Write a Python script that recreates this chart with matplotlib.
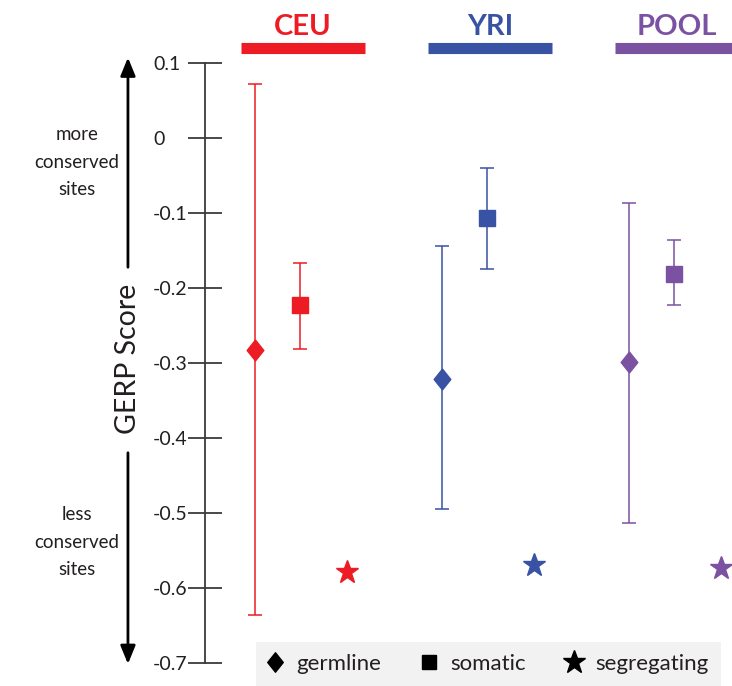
"""
GERP score of germline, somatic and segregating sites per population
"""
import numpy as np
import matplotlib.pyplot as plt
from matplotlib.lines import Line2D
from matplotlib.path import Path

plt.rcParams['font.family'] = ['Lato', 'DejaVu Sans']

# -------------------------------------------
# Data
# -------------------------------------------
populations = ['CEU', 'YRI', 'POOL']
pop_colors = ['#ED1C24', '#3953A4', '#7B52A1']

germline_mean = [-0.282, -0.321, -0.298]
germline_low = [-0.636, -0.495, -0.513]
germline_high = [0.072, -0.144, -0.087]

somatic_mean = [-0.222, -0.106, -0.181]
somatic_low = [-0.281, -0.174, -0.222]
somatic_high = [-0.166, -0.040, -0.136]

segregating_mean = [-0.578, -0.569, -0.573]

yticks = [0.1, 0.0, -0.1, -0.2, -0.3, -0.4, -0.5, -0.6, -0.7]
ytick_labels = ['0.1', '0', '-0.1', '-0.2', '-0.3', '-0.4', '-0.5', '-0.6', '-0.7']

# -------------------------------------------
# Figure
# -------------------------------------------
TEXT = '#231F20'
AXC = '#3a3a3a'
diamond = Path([(0, 1), (0.8, 0), (0, -1), (-0.8, 0), (0, 1)],
               [Path.MOVETO, Path.LINETO, Path.LINETO, Path.LINETO, Path.CLOSEPOLY])

fig = plt.figure(figsize=(7.32, 6.86), dpi=100)
W, H = 732, 686
ax = fig.add_axes([205 / W, 23 / H, 1 - 205 / W, 600 / H])

off_som, off_seg = 0.24, 0.49
groups = np.arange(len(populations))

for i, c in enumerate(pop_colors):
    g = groups[i]
    ax.errorbar(g, germline_mean[i],
                yerr=[[germline_mean[i] - germline_low[i]], [germline_high[i] - germline_mean[i]]],
                fmt='none', ecolor=c, elinewidth=1.3, capsize=4.7, capthick=1.3,
                alpha=0.85, clip_on=False)
    ax.plot(g, germline_mean[i], marker=diamond, ms=15, color=c, ls='none',
            clip_on=False, zorder=3)
    ax.errorbar(g + off_som, somatic_mean[i],
                yerr=[[somatic_mean[i] - somatic_low[i]], [somatic_high[i] - somatic_mean[i]]],
                fmt='none', ecolor=c, elinewidth=1.3, capsize=4.7, capthick=1.3,
                alpha=0.85, clip_on=False)
    ax.plot(g + off_som, somatic_mean[i], marker='s', ms=11, color=c, ls='none',
            clip_on=False, zorder=3)
    ax.plot(g + off_seg, segregating_mean[i], marker='*', ms=17, color=c, ls='none',
            clip_on=False, zorder=3)

    # header bar and population name
    ax.plot([g - 0.075, g + 0.588], [0.1197, 0.1197], color=c, lw=8,
            solid_capstyle='butt', clip_on=False)
    ax.text(g + 0.257, 0.1377, populations[i], color=c, fontsize=21,
            fontweight='bold', ha='center', va='baseline', clip_on=False)

ax.set_xlim(-0.267, 2.551)
ax.set_ylim(-0.7, 0.1)
ax.set_yticks(yticks)
ax.set_yticklabels(ytick_labels, fontsize=14, color=TEXT, ha='left')
ax.set_xticks([])
for s in ['top', 'right', 'bottom']:
    ax.spines[s].set_visible(False)
ax.spines['left'].set_color(AXC)
ax.spines['left'].set_linewidth(1.3)
ax.tick_params(axis='y', direction='inout', length=24, width=1.3, color=AXC, pad=25.5)
ax.patch.set_visible(False)

# axis title with arrows
xa = -0.679
ax.annotate('', xy=(xa, 0.111), xytext=(xa, -0.176), annotation_clip=False,
            arrowprops=dict(arrowstyle='-|>,head_length=1.1,head_width=0.45',
                            color='black', lw=2))
ax.annotate('', xy=(xa, -0.705), xytext=(xa, -0.416), annotation_clip=False,
            arrowprops=dict(arrowstyle='-|>,head_length=1.1,head_width=0.45',
                            color='black', lw=2))
ax.text(xa, -0.294, 'GERP Score', rotation=90, fontsize=20.5, color=TEXT,
        ha='center', va='center', clip_on=False)
ax.text(-0.952, -0.032, 'more\nconserved\nsites', fontsize=13.5, color=TEXT,
        ha='center', va='center', linespacing=1.75, clip_on=False)
ax.text(-0.952, -0.539, 'less\nconserved\nsites', fontsize=13.5, color=TEXT,
        ha='center', va='center', linespacing=1.75, clip_on=False)

# legend
handles = [Line2D([], [], marker=diamond, ms=14, color='black', ls='none'),
           Line2D([], [], marker='s', ms=10.5, color='black', ls='none'),
           Line2D([], [], marker='*', ms=17, color='black', ls='none')]
fig.legend(handles, ['germline', 'somatic', 'segregating'], ncol=3,
           loc='lower left', bbox_to_anchor=(256 / W, 0, 465 / W, 44 / H),
           mode='expand', borderaxespad=0, frameon=True, fancybox=False,
           facecolor='#F2F2F2', edgecolor='none', framealpha=1,
           fontsize=16, handlelength=0.6, handletextpad=0.68, columnspacing=1.5,
           borderpad=0.55, labelcolor=TEXT)

fig.savefig('out.png', dpi=100)
